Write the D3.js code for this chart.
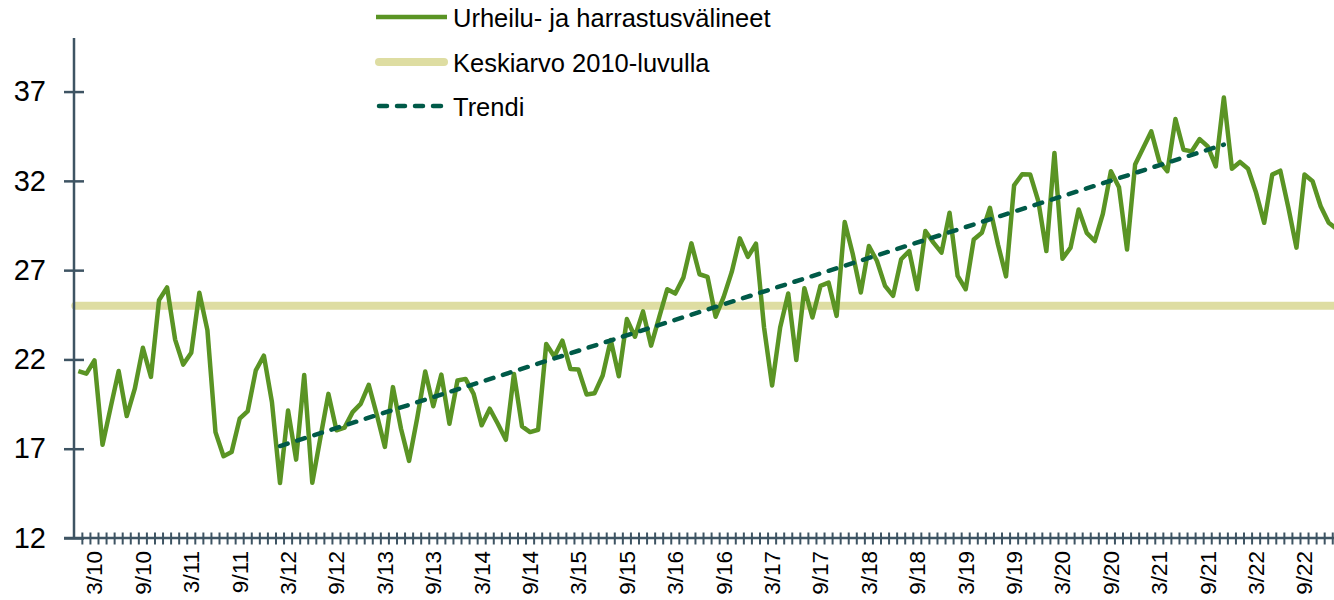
<!DOCTYPE html>
<html>
<head>
<meta charset="utf-8">
<script src="https://cdn.jsdelivr.net/npm/d3@7"></script>
<style>
  body { margin: 0; background: #fff; }
  svg text { font-family: "Liberation Sans", Arial, sans-serif; fill: #000; }
</style>
</head>
<body>
<div id="chart"></div>
<script>
// monthly index values, Jan 2010 .. Jan 2023
var startYear = 2010;
var values = [
  21.35, 21.2, 21.95, 17.22, 19.3, 21.35, 18.83, 20.36, 22.65, 21.02, 25.32, 26.03,   // 2010
  23.11, 21.71, 22.38, 25.73, 23.64, 17.93, 16.58, 16.81, 18.68, 19.11, 21.39, 22.21, // 2011
  19.61, 15.08, 19.14, 16.39, 21.13, 15.09, 17.6, 20.07, 18.03, 18.18, 19.05, 19.51,  // 2012
  20.58, 18.9, 17.1, 20.45, 18.12, 16.32, 18.7, 21.32, 19.38, 21.15, 18.4, 20.82,     // 2013
  20.91, 20.07, 18.31, 19.24, 18.4, 17.5, 21.19, 18.25, 17.93, 18.06, 22.86, 22.16,   // 2014
  23.05, 21.47, 21.43, 20.04, 20.11, 21.1, 23.09, 21.06, 24.26, 23.27, 24.69, 22.77,  // 2015
  24.35, 25.93, 25.69, 26.58, 28.5, 26.77, 26.62, 24.39, 25.5, 26.9, 28.78, 27.74,    // 2016
  28.48, 23.8, 20.54, 23.79, 25.69, 21.97, 25.99, 24.35, 26.12, 26.3, 24.44, 29.69,   // 2017
  27.9, 25.75, 28.35, 27.51, 26.12, 25.56, 27.61, 28.07, 25.93, 29.19, 28.54, 27.98,  // 2018
  30.21, 26.68, 25.93, 28.72, 29.09, 30.49, 28.44, 26.65, 31.75, 32.37, 32.35, 30.87, // 2019
  28.07, 33.56, 27.64, 28.26, 30.4, 29.09, 28.63, 30.15, 32.54, 31.64, 28.16, 32.91,  // 2020
  33.84, 34.77, 33.09, 32.54, 35.46, 33.74, 33.65, 34.34, 33.93, 32.81, 36.67, 32.68, // 2021
  33.06, 32.68, 31.33, 29.65, 32.35, 32.57, 30.49, 28.26, 32.35, 31.98, 30.58, 29.65, // 2022
  29.3                                                                                 // 2023
];
var avgValue = 25.0;                       // Keskiarvo 2010-luvulla
var trendMonths = ["2012-02", "2021-11"];  // linear trend end points
var trendValues = [17.15, 34.03];
var yTicks = [12, 17, 22, 27, 32, 37];
var labelMonths = [3, 9];                  // x labels at March and September
var legendNames = ["Urheilu- ja harrastusvälineet", "Keskiarvo 2010-luvulla", "Trendi"];

var width = 1334, height = 600;
var green = "#5a9424", khaki = "#dedda2", teal = "#005a48", axisColor = "#3e5463";

var months = values.map(function(v, i) {
  var yr = startYear + Math.floor(i / 12);
  var m = i % 12 + 1;
  return yr + "-" + (m < 10 ? "0" + m : m);
});
var series = values.map(function(v, i) { return { m: months[i], v: v }; });

var step = 8.067, left = 74.3;
var x = d3.scaleBand()
  .domain(months)
  .range([left, left + months.length * step])
  .padding(0);
var y = d3.scaleLinear()
  .domain([12, 40])
  .range([538, 38]);

var svg = d3.select("#chart").append("svg")
  .attr("width", width)
  .attr("height", height);

function cx(m) { return x(m) + x.bandwidth() / 2; }

// average line
svg.append("line")
  .attr("x1", x(months[0]) + 1)
  .attr("x2", width + 5)
  .attr("y1", y(avgValue))
  .attr("y2", y(avgValue))
  .attr("stroke", khaki)
  .attr("stroke-width", 8)
  .attr("stroke-linecap", "round");

// y axis
var yAxis = d3.axisLeft(y).tickValues(yTicks).tickSize(10).tickPadding(18);
var gy = svg.append("g")
  .attr("transform", "translate(" + 74 + ",0)")
  .call(yAxis);
gy.select(".domain").remove();
gy.append("line")
  .attr("x1", 0).attr("x2", 0)
  .attr("y1", y(40)).attr("y2", y(12))
  .attr("stroke", axisColor).attr("stroke-width", 2.5);
gy.selectAll(".tick line")
  .attr("x1", 10)
  .attr("stroke", axisColor)
  .attr("stroke-width", 2.5);
gy.selectAll(".tick text")
  .style("font-size", "29px")
  .attr("fill", "#000");

// x axis
var gx = svg.append("g");
gx.append("line")
  .attr("x1", 64).attr("x2", width)
  .attr("y1", y(12)).attr("y2", y(12))
  .attr("stroke", axisColor).attr("stroke-width", 2.5);
gx.selectAll(".xtick")
  .data(months.slice(1))
  .enter().append("line")
  .attr("class", "xtick")
  .attr("x1", function(d) { return x(d); })
  .attr("x2", function(d) { return x(d); })
  .attr("y1", y(12) - 5.5)
  .attr("y2", y(12) + 6.5)
  .attr("stroke", axisColor)
  .attr("stroke-width", 2);
gx.selectAll(".xlabel")
  .data(months.filter(function(m) { return labelMonths.indexOf(+m.slice(5)) >= 0; }))
  .enter().append("text")
  .attr("class", "xlabel")
  .attr("transform", function(d) { return "translate(" + cx(d) + "," + 551 + ")rotate(-90)"; })
  .attr("dy", "0.35em")
  .attr("text-anchor", "end")
  .style("font-size", "22.5px")
  .text(function(d) { return (+d.slice(5)) + "/" + d.slice(2, 4); });

// main series
var line = d3.line()
  .x(function(d) { return cx(d.m); })
  .y(function(d) { return y(d.v); });
svg.append("path")
  .datum(series)
  .attr("d", line)
  .attr("fill", "none")
  .attr("stroke", green)
  .attr("stroke-width", 4.5)
  .attr("stroke-linejoin", "round");

// trend
svg.append("path")
  .datum(trendMonths.map(function(m, i) { return { m: m, v: trendValues[i] }; }))
  .attr("d", line)
  .attr("fill", "none")
  .attr("stroke", teal)
  .attr("stroke-width", 4.5)
  .attr("stroke-dasharray", "8,10")
  .attr("stroke-linecap", "round");

// legend
var legend = svg.append("g").attr("transform", "translate(376,0)");
var legendRows = [
  { y: 17, color: green, w: 4.5, dash: null, cap: "butt" },
  { y: 62, color: khaki, w: 8, dash: null, cap: "round" },
  { y: 106, color: teal, w: 4.5, dash: "8,10", cap: "round" }
];
legendRows.forEach(function(r, i) {
  legend.append("line")
    .attr("x1", r.cap === "round" ? 3 : 0).attr("x2", r.cap === "round" ? 68 : 71)
    .attr("y1", r.y).attr("y2", r.y)
    .attr("stroke", r.color)
    .attr("stroke-width", r.w)
    .attr("stroke-linecap", r.cap)
    .attr("stroke-dasharray", r.dash);
  legend.append("text")
    .attr("x", 77)
    .attr("y", r.y + 1)
    .attr("dy", "0.35em")
    .style("font-size", "25.5px")
    .text(legendNames[i]);
});
</script>
</body>
</html>
